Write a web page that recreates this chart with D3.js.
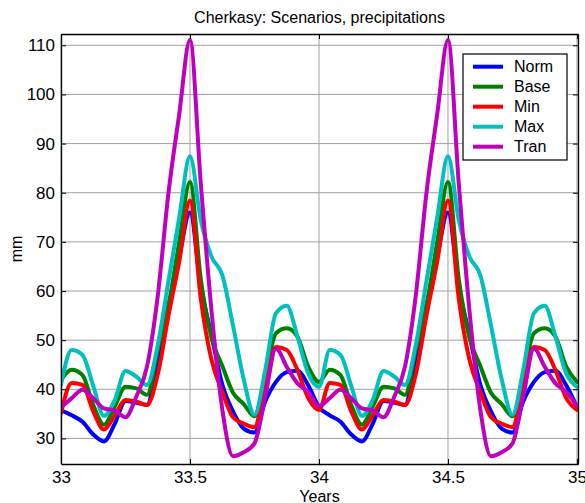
<!DOCTYPE html>
<html>
<head>
<meta charset="utf-8">
<script src="https://cdn.jsdelivr.net/npm/d3@7"></script>
<style>
  html, body { margin: 0; padding: 0; background: #fff; }
  svg { display: block; }
  text { font-family: "Liberation Sans", Arial, Helvetica, sans-serif; fill: #000; }
</style>
</head>
<body>
<script>
// ---- Data (time in years, step 1/24 year) ----
const years = d3.range(0, 49).map(i => 33 + i / 24);

const norm = [35.8, 34.7, 33.4, 30.8, 29.4, 33, 37.6, 37.3, 36.8, 46.5, 57, 67, 76, 61, 51, 41, 35.5, 32, 31.2, 37.5, 41.5, 43.5, 43.8, 40.8,
              36.4, 34.7, 33.4, 30.8, 29.4, 33, 37.6, 37.3, 36.8, 46.5, 57, 67, 76, 61, 51, 41, 35.5, 32, 31.2, 37.5, 41.5, 43.5, 43.8, 40.8, 36.4];
const base = [41.9, 44, 42.9, 36.8, 32.8, 36.5, 40.5, 40.2, 38.9, 48, 57, 70, 82.2, 62.5, 50.5, 44.8, 39.3, 37, 34.5, 42.6, 51.4, 52.4, 50.7, 44.6,
              41.5, 44, 42.9, 36.8, 32.8, 36.5, 40.5, 40.2, 38.9, 48, 57, 70, 82.2, 62.5, 50.5, 44.8, 39.3, 37, 34.5, 42.6, 51.4, 52.4, 50.7, 44.6, 41.5];
const minS = [35.1, 41.3, 40.9, 35.5, 31.8, 34.7, 37.8, 37.5, 36.8, 43, 55, 66, 78.4, 58.5, 46, 39.5, 34.3, 33, 32.3, 41.2, 48.6, 48, 43.9, 38.2,
              35.8, 41.3, 40.9, 35.5, 31.8, 34.7, 37.8, 37.5, 36.8, 43, 55, 66, 78.4, 58.5, 46, 39.5, 34.3, 33, 32.3, 41.2, 48.6, 48, 43.9, 38.2, 35.8];
const maxS = [40.9, 48, 47, 40.7, 34.6, 37.8, 43.7, 42.6, 40.9, 49, 62, 75, 87.4, 74.5, 67, 63.3, 53, 42, 34.8, 43.9, 55.5, 57, 50.7, 43.2,
              40.5, 48, 47, 40.7, 34.6, 37.8, 43.7, 42.6, 40.9, 49, 62, 75, 87.4, 74.5, 67, 63.3, 53, 42, 34.8, 43.9, 55.5, 57, 50.7, 43.2, 40.5];
const tran = [36.3, 38.2, 39.9, 38.2, 36.1, 35.7, 34.3, 38.5, 44.6, 59, 80, 96, 111.1, 82, 56, 36, 26.4, 27.2, 29, 38.5, 48.3, 44.6, 41.2, 39.5,
              36.6, 38.2, 39.9, 38.2, 36.1, 35.7, 34.3, 38.5, 44.6, 59, 80, 96, 111.1, 82, 56, 36, 26.4, 27.2, 29, 38.5, 48.3, 44.6, 41.2, 39.5, 36.6];

const seriesNames = ["Norm", "Base", "Min", "Max", "Tran"];
const seriesColors = ["#0000ff", "#008000", "#ff0000", "#00bfbf", "#bf00bf"];
const seriesValues = [norm, base, minS, maxS, tran];

const xTicks = [33, 33.5, 34, 34.5, 35];
const yTicks = [30, 40, 50, 60, 70, 80, 90, 100, 110];

const titleText = "Cherkasy: Scenarios, precipitations";
const xLabel = "Years";
const yLabel = "mm";

// ---- Layout ----
const W = 585, H = 503;
const L = 61, R = 578, T = 34, B = 464;

const svg = d3.select("body").append("svg").attr("width", W).attr("height", H);

const x = d3.scaleLinear().domain([33, 35.004]).range([L, R]);
const y = d3.scaleLinear().domain([24.8, 112.3]).range([B, T]);

// grid
const grid = svg.append("g");
grid.selectAll("line.gx").data(xTicks).join("line")
  .attr("x1", d => x(d)).attr("x2", d => x(d)).attr("y1", T).attr("y2", B)
  .attr("stroke", "#a0a0a0").attr("stroke-width", 1);
grid.selectAll("line.gy").data(yTicks).join("line")
  .attr("x1", L).attr("x2", R).attr("y1", d => y(d)).attr("y2", d => y(d))
  .attr("stroke", "#a0a0a0").attr("stroke-width", 1);

// clip
svg.append("clipPath").attr("id", "plotclip").append("rect")
  .attr("x", L).attr("y", T).attr("width", R - L).attr("height", B - T);

// lines
const line = d3.line().x((d, i) => x(years[i])).y(d => y(d)).curve(d3.curveMonotoneX);
const lines = svg.append("g").attr("clip-path", "url(#plotclip)");
seriesValues.forEach((vals, si) => {
  lines.append("path").datum(vals)
    .attr("d", line)
    .attr("fill", "none")
    .attr("stroke", seriesColors[si])
    .attr("stroke-width", 4)
    .attr("stroke-linejoin", "round")
    .attr("stroke-linecap", "round");
});

// axes
const fmt = d3.format("");
const xAxis = svg.append("g").attr("transform", `translate(0,${B})`)
  .call(d3.axisBottom(x).tickValues(xTicks).tickFormat(fmt).tickSizeInner(-5).tickSizeOuter(0).tickPadding(7));
const yAxis = svg.append("g").attr("transform", `translate(${L},0)`)
  .call(d3.axisLeft(y).tickValues(yTicks).tickFormat(fmt).tickSizeInner(-5).tickSizeOuter(0).tickPadding(6));
const xTop = svg.append("g").attr("transform", `translate(0,${T})`)
  .call(d3.axisTop(x).tickValues(xTicks).tickFormat("").tickSizeInner(-5).tickSizeOuter(0));
const yRight = svg.append("g").attr("transform", `translate(${R},0)`)
  .call(d3.axisRight(y).tickValues(yTicks).tickFormat("").tickSizeInner(-5).tickSizeOuter(0));

[xAxis, yAxis, xTop, yRight].forEach(g => {
  g.selectAll(".domain").attr("stroke", "#000").attr("stroke-width", 1.3);
  g.selectAll(".tick line").attr("stroke", "#000").attr("stroke-width", 1);
  g.selectAll(".tick text").attr("font-size", 17).attr("fill", "#000")
    .attr("font-family", "'Liberation Sans', Arial, sans-serif");
});

// titles
svg.append("text").attr("x", (L + R) / 2).attr("y", 23).attr("text-anchor", "middle")
  .attr("font-size", 16).text(titleText);
svg.append("text").attr("x", (L + R) / 2).attr("y", 502).attr("text-anchor", "middle")
  .attr("font-size", 16).text(xLabel);
svg.append("text").attr("transform", `translate(22,${(T + B) / 2}) rotate(-90)`)
  .attr("text-anchor", "middle").attr("font-size", 16).text(yLabel);

// legend
const lg = svg.append("g");
lg.append("rect").attr("x", 463).attr("y", 54).attr("width", 104).attr("height", 106)
  .attr("fill", "#fff").attr("stroke", "#000").attr("stroke-width", 1.2);
seriesNames.forEach((name, i) => {
  const yy = 66.7 + i * 20;
  lg.append("line").attr("x1", 473).attr("x2", 503).attr("y1", yy).attr("y2", yy)
    .attr("stroke", seriesColors[i]).attr("stroke-width", 4);
  lg.append("text").attr("x", 514).attr("y", yy).attr("dy", "0.36em")
    .attr("font-size", 16).text(name);
});
</script>
</body>
</html>
